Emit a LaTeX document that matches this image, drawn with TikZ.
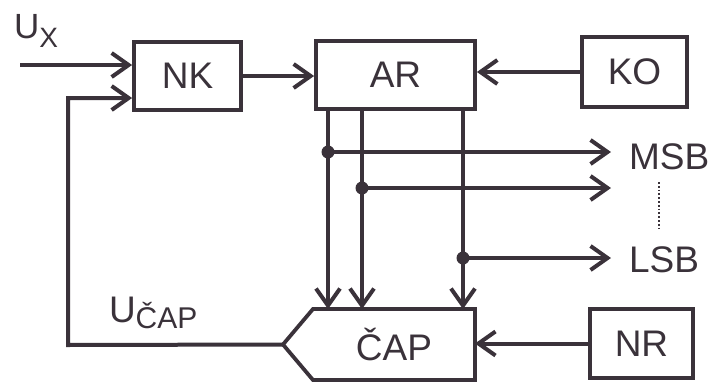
\documentclass[tikz,border=0pt]{standalone}
\usepackage{fontspec}
\setmainfont{Liberation Sans}
\usetikzlibrary{arrows.meta,positioning,calc}
\definecolor{ink}{RGB}{58,50,58}
\newcommand{\lowsub}[3][6pt]{\raisebox{-#1}{\fontsize{#2}{#2}\selectfont #3}}

\begin{document}
\begin{tikzpicture}[
    x=1pt, y=-1pt,
    line width=4pt, draw=ink, text=ink,
    % node styles
    blk/.style  = {draw=ink, line width=3.8pt, inner sep=0pt,
                   minimum height=68pt, font=\fontsize{37}{40}\selectfont},
    lbl/.style  = {inner sep=0pt, font=\fontsize{37}{40}\selectfont},
    tap/.style  = {circle, fill=ink, inner sep=0pt, minimum size=13pt},
    % edges
    sig/.style  = {-{Straight Barb[length=17pt,width=24pt]}, line width=4pt},
    dots/.style = {dotted, line width=1.8pt}
  ]
\useasboundingbox (0,0) rectangle (716,381);

% ============================================================
% Blocks
% ============================================================
\node[blk, minimum width=107pt] (nk) at (187.5,76) {NK};
\node[blk, minimum width=159pt] (ar) at (395.5,75) {AR};
\node[blk, minimum width=105pt, minimum height=70pt] (ko) at (634.5,72) {KO};
\node[blk, minimum width=103pt, minimum height=69pt] (nr) at (641.5,343.5) {NR};

% converter block with pointed output side
\node[lbl, minimum width=158pt, minimum height=67pt] (cap) at (394,344.5) {ČAP};
\coordinate (captip) at ($(cap.west)+(-30,0)$);
\draw[line join=miter, line width=3.8pt] (cap.north west) -- (cap.north east)
  -- (cap.south east) -- (cap.south west) -- (captip) -- cycle;

% ============================================================
% Labels
% ============================================================
\node[lbl, anchor=base west] (ux) at (12,38)
  {\fontsize{35}{37}\selectfont U\lowsub[9pt]{28}{X}};
\node[lbl, anchor=base west] (ucap) at (107,322) {U\lowsub[6pt]{30}{ČAP}};
\node[lbl, anchor=west] (msb) at (627,156.5) {MSB};
\node[lbl, anchor=west] (lsb) at (627,260) {LSB};
\draw[dots] (659,182) -- (659,230);

% ============================================================
% Connections
% ============================================================
\coordinate (in) at (20,65);
\draw[sig] (in) -- (in -| nk.west);
\coordinate (fb) at (68,345);
\draw[sig] (captip) -- (fb) |- ($(nk.west)+(0,22)$);
\draw[sig] (nk.east) -- (nk.east -| ar.west);
\draw[sig] (ko.west) -- (ko.west -| ar.east);
\draw[sig] (nr.west) -- (nr.west -| cap.east);

% register outputs: down to the converter, taps to the bit lines
\foreach \bx/\by/\nm in {328/152/a, 362/188/b, 463/258/c} {
  \coordinate (t\nm) at (\bx,\by);
  \draw[sig] (t\nm |- ar.south) -- (t\nm |- cap.north);
  \node[tap] at (t\nm) {};
  \draw[sig] (t\nm) -- ($(t\nm -| msb.west)+(-16,0)$);
}

\end{tikzpicture}
\end{document}
